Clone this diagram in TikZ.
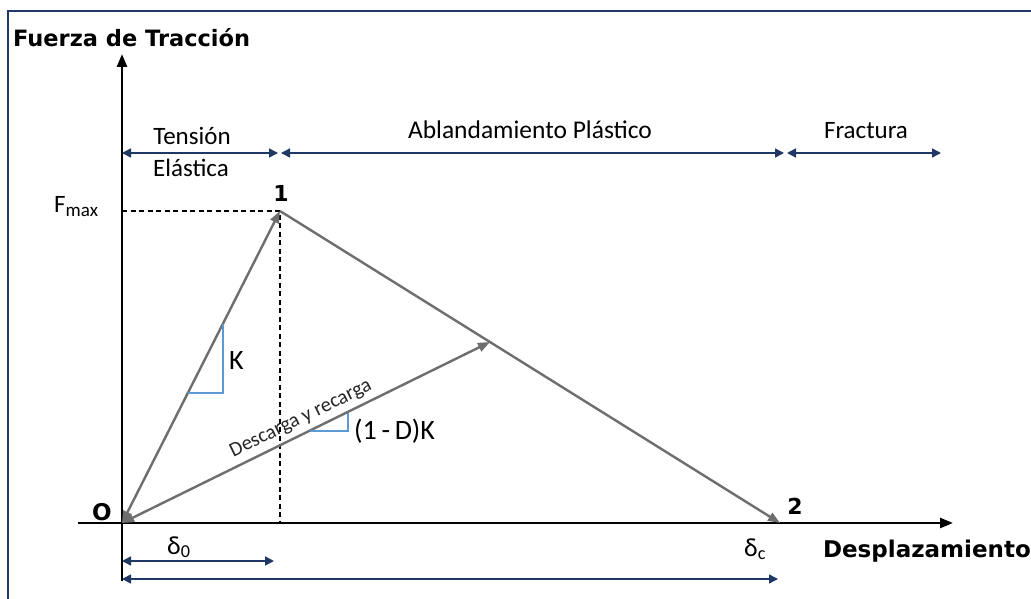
\documentclass[tikz,border=0pt]{standalone}
\usepackage{fontspec}
\setmainfont{Carlito}
\newfontfamily\dvs{DejaVu Sans}
\usetikzlibrary{arrows.meta}
\definecolor{navy}{HTML}{1F3864}
\definecolor{frameblue}{HTML}{1F3A68}
\definecolor{linegray}{HTML}{6E6E6E}
\definecolor{slopeblue}{HTML}{5B9BD5}
\newcommand\myfs[1]{\fontsize{#1}{#1}\selectfont}
\begin{document}
\begin{tikzpicture}[x=1pt,y=-1pt,
  axisline/.style={draw=black,line width=2.6pt,-{Triangle[length=13pt,width=10pt]}},
  dimarrow/.style={draw=navy,line width=1.6pt,{Triangle[length=9pt,width=9pt]}-{Triangle[length=9pt,width=9pt]}},
  grayline/.style={draw=linegray,line width=2.4pt},
  dashline/.style={draw=black,line width=1.1pt,dash pattern=on 5pt off 3.5pt},
  slope/.style={draw=slopeblue,line width=1.2pt},
  lbl/.style={inner sep=0pt,text=black},
  boldlbl/.style={inner sep=0pt,text=black,font=\dvs\bfseries}
]
\useasboundingbox (0,0) rectangle (1031,599);
\fill[white] (0,0) rectangle (1031,599);
\draw[frameblue,line width=2.6pt] (8,600) -- (8,11) -- (1032,11);

% key points
\coordinate (O) at (122,523);
\coordinate (P1) at (280,211);
\coordinate (P2) at (780,523);
\coordinate (P) at (490,342);
\coordinate (Fm) at (122,211);
\coordinate (P1foot) at (280,522);
% axes
\coordinate (xs) at (78,523);
\coordinate (xe) at (953,523);
\coordinate (ys) at (122,581);
\coordinate (ye) at (122,54);
\draw[axisline] (xs) -- (xe);
\draw[axisline] (ys) -- (ye);

% dashed guides
\draw[dashline] (Fm) -- (P1) -- (P1foot);

% curve
\draw[grayline,{Triangle[length=12pt,width=9pt]}-{Triangle[length=12pt,width=9pt]}] (O) -- (P1);
\draw[grayline,-{Triangle[length=12pt,width=9pt]}] (P1) -- (P2);
\draw[grayline,{Triangle[length=12pt,width=9pt]}-{Triangle[length=12pt,width=9pt]}] (O) -- (P);

% slope triangles
\coordinate (ka) at (187.8,393);
\coordinate (kb) at (223,393);
\coordinate (kc) at (223,323.5);
\draw[slope] (ka) -- (kb) -- (kc);
\coordinate (da) at (310,431);
\coordinate (db) at (348,431);
\coordinate (dc) at (348,412.5);
\draw[slope] (da) -- (db) -- (dc);

% top dimension arrows
\coordinate (t0) at (122,153);
\coordinate (t1) at (278,153);
\coordinate (t2) at (281,153);
\coordinate (t3) at (784,153);
\coordinate (t4) at (787,153);
\coordinate (t5) at (941,153);
\draw[dimarrow] (t0) -- (t1);
\draw[dimarrow] (t2) -- (t3);
\draw[dimarrow] (t4) -- (t5);
% bottom dimension arrows
\coordinate (b0) at (122,561);
\coordinate (b1) at (274,561);
\coordinate (c0) at (122,579);
\coordinate (c1) at (778,579);
\draw[dimarrow] (b0) -- (b1);
\draw[dimarrow] (c0) -- (c1);

% labels
\node[boldlbl,anchor=base west,font=\dvs\bfseries\myfs{22.5}] (ylab) at (13,47) {Fuerza de Tracción};
\node[boldlbl,anchor=base east,font=\dvs\bfseries\myfs{23}] (xlab) at (1031,557) {Desplazamiento};
\node[lbl,anchor=base,font=\myfs{25}] (ten) at (192,145) {Tensión};
\node[lbl,anchor=base,font=\myfs{25}] (ela) at (191,177) {Elástica};
\node[lbl,anchor=base,font=\myfs{25.5}] (abl) at (530,139) {Ablandamiento Plástico};
\node[lbl,anchor=base,font=\myfs{25}] (fra) at (866,139) {Fractura};
\node[lbl,anchor=base west,font=\myfs{25}] (fmax) at (54,212) {F{\myfs{19}\raisebox{-4pt}{max}}};
\node[boldlbl,font=\dvs\bfseries\myfs{22}] (n1) at (281,193) {1};
\node[boldlbl,font=\dvs\bfseries\myfs{22}] (n2) at (795,506) {2};
\node[boldlbl,font=\dvs\bfseries\myfs{23}] (nO) at (102,512) {O};
\node[lbl,anchor=west,font=\myfs{28}] (kl) at (229,361) {K};
\node[lbl,anchor=west,font=\myfs{28}] (dkl) at (354,431) {(1\,-\,D)K};
\node[lbl,font=\myfs{20.5},text=black!85,rotate=26] (desc) at (301,419) {Descarga y recarga};
\node[lbl,anchor=base west,font=\myfs{26}] (d0) at (167,554) {δ\textsubscript{0}};
\node[lbl,anchor=base west,font=\myfs{26}] (dc) at (744,556) {δ\textsubscript{c}};
\end{tikzpicture}
\end{document}
